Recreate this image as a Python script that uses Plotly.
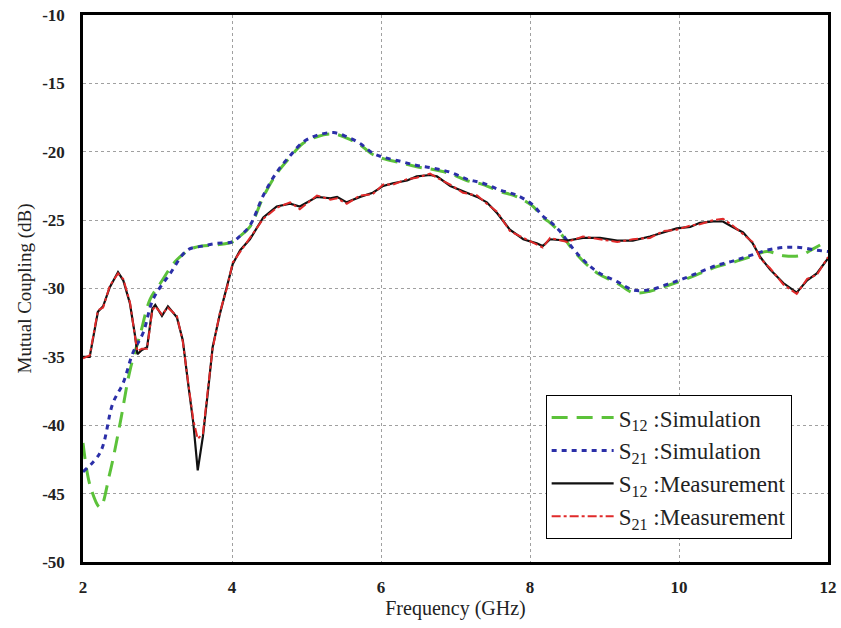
import plotly.graph_objects as go

# Simulated S12
sim12_f = [2.00, 2.10, 2.23, 2.36, 2.50, 2.63, 2.77, 2.90, 3.04, 3.26, 3.50, 3.80, 4.00, 4.10,
           4.24, 4.42, 4.60, 4.78, 4.95, 5.14, 5.36, 5.54, 5.72, 5.89, 6.03, 6.26, 6.48, 6.70,
           6.93, 7.15, 7.37, 7.60, 7.83, 8.04, 8.17, 8.27, 8.40, 8.58, 8.77, 8.94, 9.17, 9.38,
           9.61, 9.84, 10.05, 10.28, 10.51, 10.72, 10.95, 11.18, 11.40, 11.62, 11.80, 12.00]
sim12_db = [-41.3, -44.5, -46.0, -43.5, -39.8, -36.0, -33.3, -30.8, -29.6, -27.9, -27.0, -26.8, -26.6, -26.2,
            -25.5, -23.3, -21.6, -20.4, -19.4, -18.9, -18.7, -19.0, -19.5, -20.2, -20.5, -20.8, -21.1, -21.3,
            -21.6, -22.1, -22.4, -22.9, -23.3, -24.0, -24.8, -25.2, -25.9, -27.2, -28.3, -29.0, -29.6, -30.3,
            -30.2, -29.8, -29.4, -28.9, -28.4, -28.1, -27.7, -27.3, -27.6, -27.6, -27.1, -26.5]

# Simulated S21
sim21_f = [2.00, 2.23, 2.40, 2.54, 2.67, 2.81, 2.94, 3.17, 3.40, 3.60, 3.80, 4.00, 4.10,
           4.24, 4.42, 4.60, 4.78, 4.95, 5.14, 5.36, 5.54, 5.72, 5.89, 6.03, 6.26, 6.48, 6.70,
           6.93, 7.15, 7.37, 7.60, 7.83, 8.04, 8.17, 8.27, 8.40, 8.58, 8.77, 8.94, 9.17, 9.38,
           9.61, 9.84, 10.05, 10.28, 10.51, 10.72, 10.95, 11.18, 11.40, 11.62, 11.85, 12.00]
sim21_db = [-43.4, -42.0, -38.4, -36.9, -34.7, -33.2, -30.8, -28.9, -27.2, -26.9, -26.7, -26.6, -26.2,
            -25.4, -23.2, -21.5, -20.3, -19.3, -18.8, -18.6, -18.9, -19.4, -20.1, -20.4, -20.7, -21.0, -21.2,
            -21.5, -22.0, -22.3, -22.8, -23.2, -23.9, -24.7, -25.1, -25.8, -27.1, -28.2, -28.9, -29.5, -30.1,
            -30.1, -29.7, -29.3, -28.8, -28.3, -28.0, -27.6, -27.2, -27.0, -27.0, -27.2, -27.3]

# Measured S12
meas12_f = [2.00, 2.09, 2.20, 2.27, 2.36, 2.47, 2.54, 2.63, 2.70, 2.73, 2.79, 2.86, 2.93, 2.97,
            3.06, 3.14, 3.26, 3.34, 3.41, 3.48, 3.54, 3.61, 3.68, 3.74, 3.84, 3.93, 4.01, 4.11,
            4.24, 4.42, 4.60, 4.78, 4.91, 5.14, 5.32, 5.41, 5.54, 5.72, 5.89, 6.03, 6.16, 6.35,
            6.48, 6.66, 6.75, 6.93, 7.10, 7.29, 7.42, 7.56, 7.73, 7.91, 8.09, 8.17, 8.27, 8.50,
            8.71, 8.94, 9.17, 9.38, 9.61, 9.79, 9.97, 10.15, 10.28, 10.46, 10.59, 10.72, 10.86,
            10.99, 11.09, 11.22, 11.40, 11.58, 11.72, 11.85, 12.00]
meas12_db = [-35.0, -35.0, -31.7, -31.3, -29.9, -28.8, -29.4, -31.1, -33.5, -34.8, -34.5, -34.3, -31.5, -31.2,
             -32.0, -31.3, -32.1, -33.8, -36.9, -39.8, -43.3, -40.8, -37.4, -34.3, -31.8, -29.9, -28.2, -27.2,
             -26.4, -24.8, -24.0, -23.8, -24.0, -23.3, -23.4, -23.3, -23.7, -23.3, -23.0, -22.5, -22.3, -22.1,
             -21.8, -21.7, -21.8, -22.5, -22.9, -23.3, -23.7, -24.5, -25.7, -26.4, -26.7, -26.9, -26.4, -26.5,
             -26.3, -26.3, -26.5, -26.5, -26.2, -25.9, -25.6, -25.5, -25.2, -25.1, -25.1, -25.5, -25.9,
             -26.7, -27.7, -28.6, -29.6, -30.3, -29.4, -28.9, -27.8]

# Measured S21
meas21_f = [2.00, 2.09, 2.20, 2.27, 2.36, 2.47, 2.54, 2.63, 2.70, 2.73, 2.79, 2.86, 2.93, 2.97,
            3.06, 3.14, 3.26, 3.34, 3.41, 3.48, 3.54, 3.61, 3.68, 3.74, 3.84, 3.93, 4.01, 4.11,
            4.24, 4.42, 4.60, 4.78, 4.91, 5.14, 5.32, 5.41, 5.54, 5.72, 5.89, 6.03, 6.16, 6.35,
            6.48, 6.66, 6.75, 6.93, 7.10, 7.29, 7.42, 7.56, 7.73, 7.91, 8.09, 8.17, 8.27, 8.50,
            8.71, 8.94, 9.17, 9.38, 9.61, 9.79, 9.97, 10.15, 10.28, 10.46, 10.59, 10.72, 10.86,
            10.99, 11.09, 11.22, 11.40, 11.58, 11.72, 11.85, 12.00]
meas21_db = [-35.1, -34.9, -31.6, -31.4, -29.8, -28.9, -29.3, -31.0, -33.6, -34.6, -34.4, -34.4, -31.6, -31.3,
             -31.9, -31.4, -32.0, -33.9, -36.8, -39.6, -41.0, -40.6, -37.2, -34.4, -31.7, -30.0, -28.1, -27.3,
             -26.3, -24.9, -24.1, -23.7, -24.2, -23.2, -23.5, -23.4, -23.8, -23.2, -23.1, -22.4, -22.4, -22.0,
             -21.9, -21.6, -21.9, -22.4, -23.0, -23.2, -23.8, -24.4, -25.8, -26.3, -26.8, -27.0, -26.3, -26.6,
             -26.2, -26.4, -26.6, -26.4, -26.3, -25.8, -25.7, -25.4, -25.3, -25.0, -24.9, -25.4, -26.0,
             -26.6, -27.8, -28.5, -29.7, -30.4, -29.3, -29.0, -27.7]

# Axis ticks
x_ticks = [2, 4, 6, 8, 10, 12]
y_ticks = [-50, -45, -40, -35, -30, -25, -20, -15, -10]
y_tick_text = ["-50", "-45", "-40", "-35", "-30", "-25", "-20", "-15", "-10"]

serif = "Liberation Serif"

fig = go.Figure()
fig.add_trace(go.Scatter(x=sim12_f, y=sim12_db, mode="lines", line_shape="spline",
                         name="S<sub>12</sub> :Simulation",
                         line=dict(color="#5cc23a", width=3, dash="16px,9px")))
fig.add_trace(go.Scatter(x=sim21_f, y=sim21_db, mode="lines", line_shape="spline",
                         name="S<sub>21</sub> :Simulation",
                         line=dict(color="#2b2fa8", width=3, dash="5px,5px")))
fig.add_trace(go.Scatter(x=meas12_f, y=meas12_db, mode="lines",
                         name="S<sub>12</sub> :Measurement",
                         line=dict(color="#111111", width=2.2)))
fig.add_trace(go.Scatter(x=meas21_f, y=meas21_db, mode="lines",
                         name="S<sub>21</sub> :Measurement",
                         line=dict(color="#e02a2a", width=2, dash="dashdot")))

axis_common = dict(
    showline=True, linecolor="black", linewidth=2.5, mirror=True,
    showgrid=True, gridcolor="#a0a0a0", gridwidth=1, griddash="dot",
    zeroline=False, ticks="", automargin=False,
    tickfont=dict(family=serif, size=17, color="#222", weight="bold"),
)

fig.update_xaxes(range=[2, 12], tickvals=x_ticks, ticklabelstandoff=8,
                 title=dict(text="Frequency (GHz)", font=dict(family=serif, size=20, color="#222"),
                            standoff=4),
                 **axis_common)
fig.update_yaxes(range=[-50, -10], tickvals=y_ticks, ticktext=y_tick_text, ticklabelstandoff=12,
                 title=dict(text="Mutual Coupling (dB)", font=dict(family=serif, size=19, color="#222"),
                            standoff=6),
                 **axis_common)

fig.update_layout(
    width=841, height=628,
    margin=dict(l=83, r=13, t=15, b=66),
    plot_bgcolor="white", paper_bgcolor="white",
    legend=dict(x=0.621, y=0.305, xanchor="left", yanchor="top",
                bgcolor="white", bordercolor="black", borderwidth=1,
                font=dict(family=serif, size=23, color="#222"),
                tracegroupgap=0, itemwidth=62),
)

fig.write_html("out.html")
